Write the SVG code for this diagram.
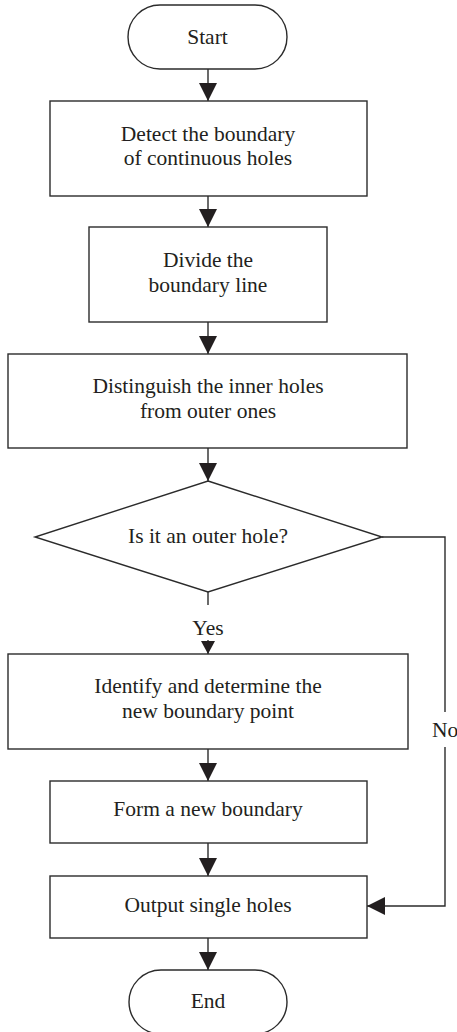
<svg xmlns="http://www.w3.org/2000/svg" width="457" height="1032" viewBox="0 0 457 1032">
<style>
.s{fill:#fff;stroke:#2b2b2b;stroke-width:1.4}
.t{font-family:"Liberation Serif","Times New Roman",serif;font-size:21.5px;fill:#231f20;text-anchor:middle}
.c{fill:none;stroke:#2b2b2b;stroke-width:1.4}
</style>
<defs>
<marker id="ah" viewBox="0 0 18 18" refX="18" refY="9" markerWidth="18" markerHeight="18" markerUnits="userSpaceOnUse" orient="auto">
<path d="M0,0 L18,9 L0,18 z" fill="#231f20"/>
</marker>
<marker id="ahs" viewBox="0 0 13 14" refX="13" refY="7" markerWidth="13" markerHeight="14" markerUnits="userSpaceOnUse" orient="auto">
<path d="M0,0 L13,7 L0,14 z" fill="#231f20"/>
</marker>
</defs>
<rect width="457" height="1032" fill="#fff"/>
<g id="connectors">
<line class="c" x1="208" y1="69" x2="208" y2="101" marker-end="url(#ah)"/>
<line class="c" x1="208" y1="196" x2="208" y2="227" marker-end="url(#ah)"/>
<line class="c" x1="208" y1="322" x2="208" y2="354" marker-end="url(#ah)"/>
<line class="c" x1="208" y1="448" x2="208" y2="481" marker-end="url(#ah)"/>
<line class="c" x1="208" y1="592" x2="208" y2="605"/>
<line class="c" x1="208" y1="640" x2="208" y2="654" marker-end="url(#ahs)"/>
<line class="c" x1="208" y1="749" x2="208" y2="781" marker-end="url(#ah)"/>
<line class="c" x1="208" y1="843" x2="208" y2="876" marker-end="url(#ah)"/>
<line class="c" x1="208" y1="938" x2="208" y2="970" marker-end="url(#ah)"/>
<polyline class="c" points="382,537 445,537 445,712"/>
<polyline class="c" points="445,747 445,906 367,906" marker-end="url(#ah)"/>
<text class="t" x="208" y="635">Yes</text>
<text class="t" x="432" y="737" style="text-anchor:start">No</text>
</g>
<g id="start">
<rect class="s" x="128" y="5" width="159" height="64" rx="32" ry="32"/>
<text class="t" x="207.5" y="44">Start</text>
</g>
<g id="detect">
<rect class="s" x="50" y="101" width="317" height="95"/>
<text class="t" x="208" y="141">Detect the boundary</text>
<text class="t" x="208" y="165">of continuous holes</text>
</g>
<g id="divide">
<rect class="s" x="89" y="227" width="238" height="95"/>
<text class="t" x="208" y="267">Divide the</text>
<text class="t" x="208" y="292">boundary line</text>
</g>
<g id="distinguish">
<rect class="s" x="8" y="354" width="399" height="94"/>
<text class="t" x="208" y="393">Distinguish the inner holes</text>
<text class="t" x="208" y="418">from outer ones</text>
</g>
<g id="decision">
<polygon class="s" points="208,481 382,537 208,592 35,537"/>
<text class="t" x="208" y="543">Is it an outer hole?</text>
</g>
<g id="identify">
<rect class="s" x="8" y="654" width="400" height="95"/>
<text class="t" x="208" y="693">Identify and determine the</text>
<text class="t" x="208" y="718">new boundary point</text>
</g>
<g id="form">
<rect class="s" x="50" y="781" width="317" height="62"/>
<text class="t" x="208" y="816">Form a new boundary</text>
</g>
<g id="output">
<rect class="s" x="50" y="876" width="317" height="62"/>
<text class="t" x="208" y="912">Output single holes</text>
</g>
<g id="end">
<rect class="s" x="129" y="970" width="158" height="64" rx="32" ry="32"/>
<text class="t" x="208" y="1008">End</text>
</g>
</svg>
